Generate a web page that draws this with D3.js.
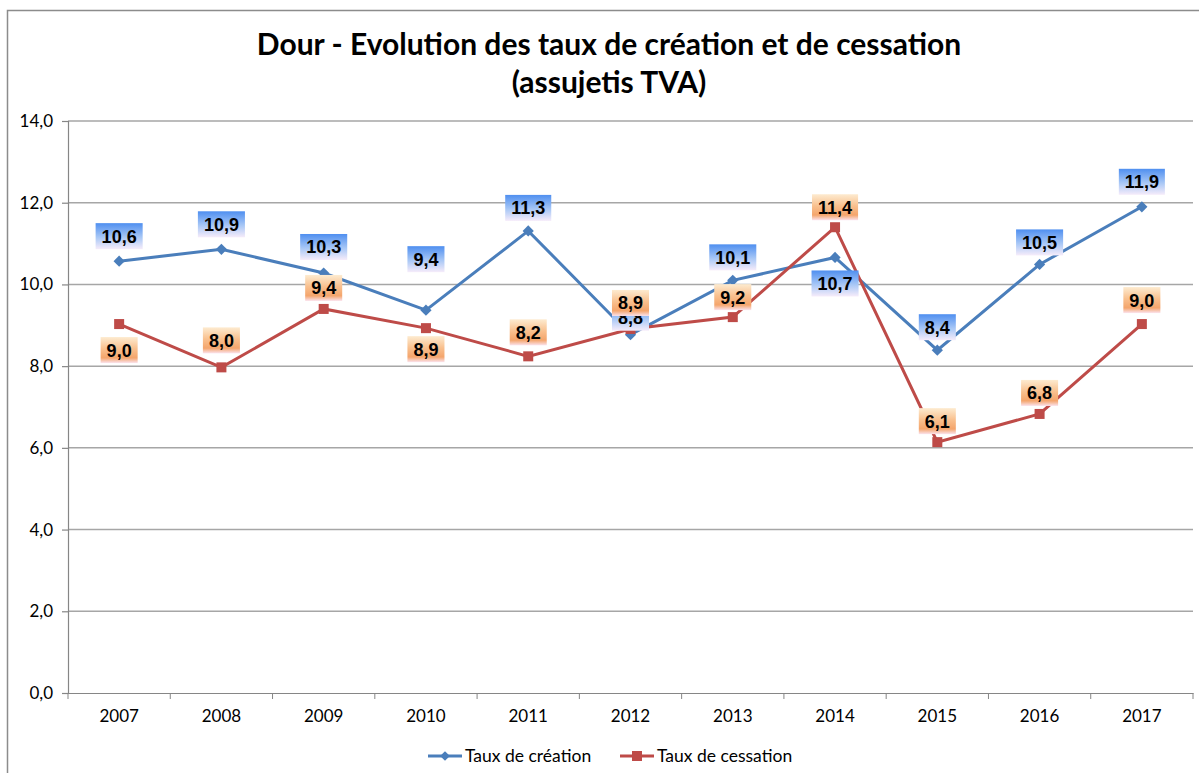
<!DOCTYPE html>
<html>
<head>
<meta charset="utf-8">
<script src="https://cdn.jsdelivr.net/npm/d3@7"></script>
<style>
  body { margin: 0; background: #fff; }
  svg { display: block; }
</style>
</head>
<body>
<div id="chart"></div>
<script>
// data
const years = ['2007', '2008', '2009', '2010', '2011', '2012', '2013', '2014', '2015', '2016', '2017'];
const creation = [10.57, 10.86, 10.28, 9.37, 11.31, 8.77, 10.1, 10.66, 8.39, 10.49, 11.9];
const cessation = [9.03, 7.97, 9.4, 8.93, 8.24, 8.91, 9.2, 11.4, 6.14, 6.83, 9.03];
const yTicks = [0, 2, 4, 6, 8, 10, 12, 14];
const seriesNames = ['Taux de création', 'Taux de cessation'];

// label placement (pixels from the point), as in the original
const creationLabelDy = [-25, -25, -26, -51, -23, -17, -23, 26, -23, -22, -25];
const cessationLabelDy = [26, -27, -21, 21, -24, -26, -20, -20, -21, -21, -24];

const W = 1199, H = 773;
const margin = { top: 121, right: 6, bottom: 80, left: 68 };
const blue = '#4a7ebb', red = '#be4b48';
const font = 'Lato, "Open Sans", sans-serif';
const fmt = v => d3.format('.1f')(v).replace('.', ',');

const svg = d3.select('#chart').append('svg')
    .attr('width', W)
    .attr('height', H);

const defs = svg.append('defs');
const gBlue = defs.append('linearGradient').attr('id', 'gradBlue')
    .attr('x1', 0).attr('y1', 0).attr('x2', 0).attr('y2', 1);
gBlue.append('stop').attr('offset', '0%').attr('stop-color', '#4f8ff0');
gBlue.append('stop').attr('offset', '55%').attr('stop-color', '#a9c8f6');
gBlue.append('stop').attr('offset', '100%').attr('stop-color', '#f6ecfa');
const gOrange = defs.append('linearGradient').attr('id', 'gradOrange')
    .attr('x1', 0).attr('y1', 0).attr('x2', 0).attr('y2', 1);
gOrange.append('stop').attr('offset', '0%').attr('stop-color', '#fdebd0');
gOrange.append('stop').attr('offset', '45%').attr('stop-color', '#f9c08e');
gOrange.append('stop').attr('offset', '80%').attr('stop-color', '#f4a56c');
gOrange.append('stop').attr('offset', '100%').attr('stop-color', '#fbe3ee');

// outer chart border (runs off right/bottom edge)
svg.append('path')
    .attr('d', `M${W + 5},10.5 H7.5 V${H + 5}`)
    .attr('fill', 'none')
    .attr('stroke', '#8c8c8c')
    .attr('stroke-width', 1.5);

// title
const title = svg.append('text')
    .attr('text-anchor', 'middle')
    .attr('font-family', font)
    .attr('font-weight', 'bold')
    .attr('font-size', '30px')
    .attr('fill', '#000');
title.append('tspan').attr('x', 609).attr('y', 55).text('Dour - Evolution des taux de création et de cessation');
title.append('tspan').attr('x', 609).attr('y', 93).text('(assujetis TVA)');

const innerW = W - margin.left - margin.right;
const innerH = H - margin.top - margin.bottom;

const g = svg.append('g')
    .attr('transform', `translate(${margin.left},${margin.top})`);

const x = d3.scaleBand().domain(years).range([0, innerW]);
const y = d3.scaleLinear().domain([0, 14]).range([innerH, 0]);
const cx = d => x(d) + x.bandwidth() / 2;

// gridlines
g.selectAll('.grid')
    .data(yTicks.filter(t => t > 0))
    .join('line')
    .attr('x1', 0)
    .attr('x2', innerW)
    .attr('y1', d => y(d))
    .attr('y2', d => y(d))
    .attr('stroke', '#a6a6a6')
    .attr('stroke-width', 1.5);

// y axis
const yAxis = g.append('g')
    .call(d3.axisLeft(y).tickValues(yTicks).tickFormat(fmt).tickSize(6).tickPadding(9));
yAxis.selectAll('text')
    .style('font-family', font)
    .style('font-size', '17px')
    .style('fill', '#000');

// x axis: ticks between categories
const xAxis = g.append('g')
    .attr('transform', `translate(0,${innerH})`)
    .call(d3.axisBottom(x).tickSize(0).tickPadding(17));
xAxis.selectAll('text')
    .style('font-family', font)
    .style('font-size', '17px')
    .style('fill', '#000');
xAxis.selectAll('.catTick')
    .data(d3.range(years.length + 1))
    .join('line')
    .attr('x1', i => i * x.step())
    .attr('x2', i => i * x.step())
    .attr('y1', 0)
    .attr('y2', 6)
    .attr('stroke', '#868686');
svg.selectAll('.domain, .tick line').attr('stroke', '#868686').attr('stroke-width', 1.2);

// lines
const line = d3.line().x((d, i) => cx(years[i])).y(d => y(d));

g.append('path')
    .datum(creation)
    .attr('d', line)
    .attr('fill', 'none')
    .attr('stroke', blue)
    .attr('stroke-width', 3);

g.selectAll('.diamond')
    .data(creation)
    .join('path')
    .attr('d', d3.symbol(d3.symbolDiamond2, 80))
    .attr('transform', (d, i) => `translate(${cx(years[i])},${y(d)})`)
    .attr('fill', blue);

g.append('path')
    .datum(cessation)
    .attr('d', line)
    .attr('fill', 'none')
    .attr('stroke', red)
    .attr('stroke-width', 3);

g.selectAll('.square')
    .data(cessation)
    .join('rect')
    .attr('x', (d, i) => cx(years[i]) - 5)
    .attr('y', d => y(d) - 5)
    .attr('width', 10)
    .attr('height', 10)
    .attr('fill', red);

// data labels
function drawLabels(values, offsets, fill) {
    values.forEach((v, i) => {
        const px = cx(years[i]);
        const py = y(v) + offsets[i];
        const lbl = g.append('g').attr('transform', `translate(${px},${py})`);
        const txt = lbl.append('text')
            .attr('text-anchor', 'middle')
            .attr('dy', '0.36em')
            .attr('font-family', '"Liberation Sans", Arial, sans-serif')
            .attr('font-weight', 'bold')
            .attr('font-size', '18px')
            .attr('fill', '#000')
            .text(fmt(v));
        const w = txt.node().getComputedTextLength() + 12;
        lbl.insert('rect', 'text')
            .attr('x', -w / 2)
            .attr('y', -13)
            .attr('width', w)
            .attr('height', 26)
            .attr('fill', `url(#${fill})`);
    });
}
drawLabels(creation, creationLabelDy, 'gradBlue');
drawLabels(cessation, cessationLabelDy, 'gradOrange');

// legend
const legend = svg.append('g').attr('transform', 'translate(428,756)');
const items = [
    { name: seriesNames[0], color: blue, x: 0, marker: 'diamond' },
    { name: seriesNames[1], color: red, x: 192, marker: 'square' }
];
items.forEach(it => {
    const lg = legend.append('g').attr('transform', `translate(${it.x},0)`);
    lg.append('line')
        .attr('x1', 0).attr('x2', 34)
        .attr('stroke', it.color)
        .attr('stroke-width', 3);
    if (it.marker === 'diamond') {
        lg.append('path')
            .attr('d', d3.symbol(d3.symbolDiamond2, 60))
            .attr('transform', 'translate(17,0)')
            .attr('fill', it.color);
    } else {
        lg.append('rect')
            .attr('x', 12).attr('y', -5)
            .attr('width', 10).attr('height', 10)
            .attr('fill', it.color);
    }
    lg.append('text')
        .attr('x', 37)
        .attr('dy', '0.35em')
        .attr('font-family', font)
        .attr('font-size', '17.5px')
        .attr('fill', '#000')
        .text(it.name);
});
</script>
</body>
</html>
